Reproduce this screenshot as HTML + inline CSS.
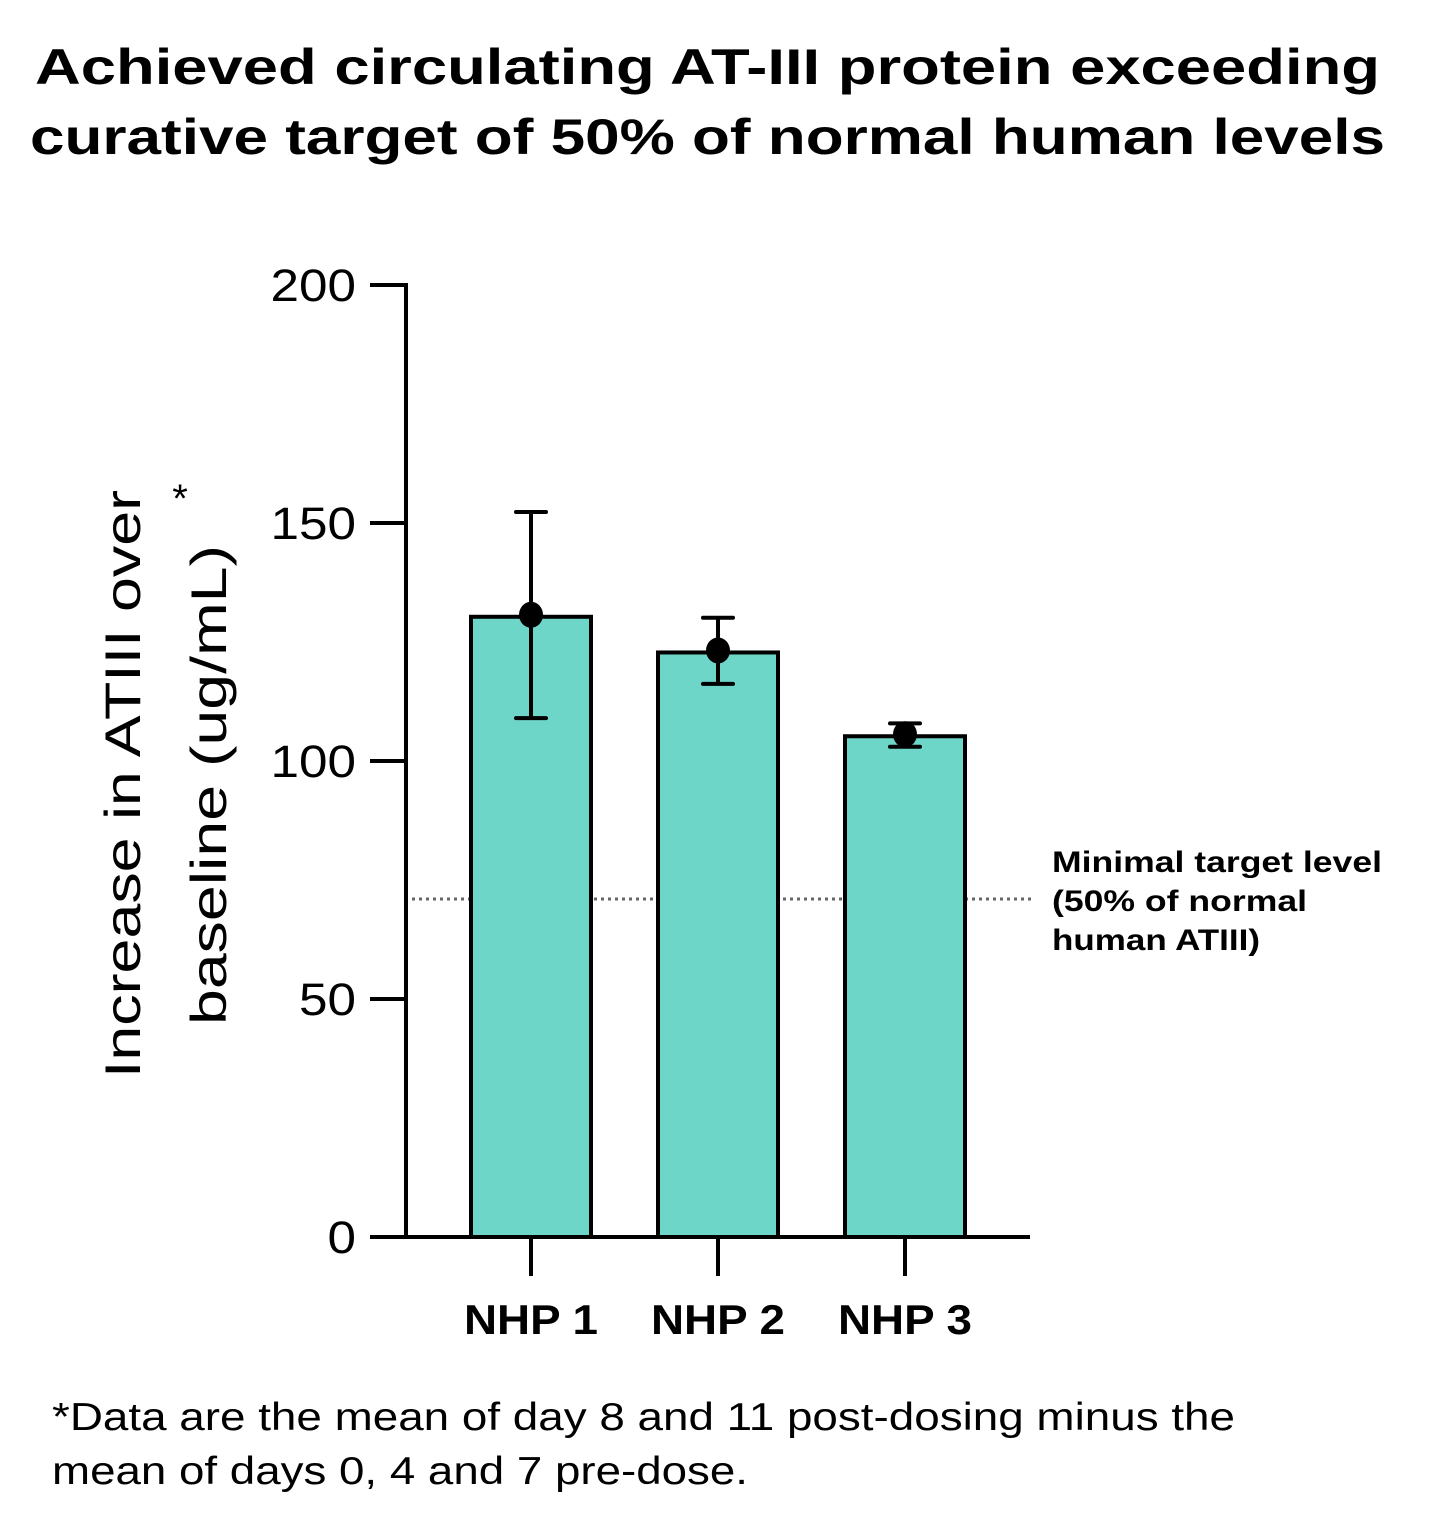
<!DOCTYPE html>
<html><head><meta charset="utf-8"><style>
body{margin:0;background:#fff;}
svg text{font-family:"Liberation Sans",sans-serif;}
</style></head><body>
<svg width="1445" height="1518" viewBox="0 0 1445 1518" xmlns="http://www.w3.org/2000/svg">
<text x="35" y="84" textLength="1345" lengthAdjust="spacingAndGlyphs" font-size="50" font-weight="bold">Achieved circulating AT-III protein exceeding</text>
<text x="30" y="154" textLength="1355" lengthAdjust="spacingAndGlyphs" font-size="50" font-weight="bold">curative target of 50% of normal human levels</text>
<g id="plot"></g>
<text x="140" y="1078" transform="rotate(-90 140 1078)" textLength="588" lengthAdjust="spacingAndGlyphs" font-size="50">Increase in ATIII over</text>
<text x="226" y="1025" transform="rotate(-90 226 1025)" textLength="480" lengthAdjust="spacingAndGlyphs" font-size="50">baseline  (ug/mL)</text>
<text x="180" y="512" text-anchor="middle" font-size="40">*</text>
<text x="1052" y="872" textLength="330" lengthAdjust="spacingAndGlyphs" font-size="30" font-weight="bold">Minimal target level</text>
<text x="1052" y="911" textLength="255" lengthAdjust="spacingAndGlyphs" font-size="30" font-weight="bold">(50% of normal</text>
<text x="1052" y="950" textLength="208" lengthAdjust="spacingAndGlyphs" font-size="30" font-weight="bold">human ATIII)</text>
<text x="52" y="1430" textLength="1183" lengthAdjust="spacingAndGlyphs" font-size="39">*Data are the mean of day 8 and 11 post-dosing minus the</text>
<text x="52" y="1484" textLength="696" lengthAdjust="spacingAndGlyphs" font-size="39">mean of days 0, 4 and 7 pre-dose.</text>
</svg>
<script>
const categories=["NHP 1","NHP 2","NHP 3"];
const means=[130.3,122.8,105.2];
const errHigh=[152.3,130.1,107.9];
const errLow=[109.0,116.2,103.0];
const yTicks=[0,50,100,150,200];
const targetLevel=71;
const NS="http://www.w3.org/2000/svg";
const g=document.getElementById('plot');
const y0=1237,y1=285,yMax=200;
const y=v=>y0-(y0-y1)*v/yMax;
const x=i=>531+i*187;
function el(t,a){const e=document.createElementNS(NS,t);for(const k in a)e.setAttribute(k,a[k]);g.appendChild(e);return e;}
let tl=el('line',{x1:412,x2:1032,y1:y(targetLevel),y2:y(targetLevel),stroke:'#666','stroke-width':3,'stroke-dasharray':'3 4'});


categories.forEach((c,i)=>{
 const cx=x(i);
 let b=el('rect',{x:cx-60,y:y(means[i]),width:120,height:y0-y(means[i]),fill:'#6dd6c9',stroke:'#000','stroke-width':4});
 
 
 let e=el('path',{d:`M${cx} ${y(errHigh[i])}V${y(errLow[i])}M${cx-15} ${y(errHigh[i])}H${cx+15}M${cx-15} ${y(errLow[i])}H${cx+15}`,stroke:'#000','stroke-width':4,'stroke-linecap':'round',fill:'none'});
 
 
 let d=el('ellipse',{cx:cx,cy:y(means[i])-2,rx:12,ry:13,fill:'#000'});
 
 
 let t=el('line',{x1:cx,x2:cx,y1:y0,y2:1276,stroke:'#000','stroke-width':4});
 
 
 let l=el('text',{x:cx-67,y:1334,textLength:134,lengthAdjust:'spacingAndGlyphs','font-size':42,'font-weight':'bold'});
 l.textContent=c;
 
 
});
yTicks.forEach(v=>{
 let t=el('line',{x1:370,x2:406,y1:y(v),y2:y(v),stroke:'#000','stroke-width':4});
 
 
 const w=String(v).length*28.5;
 let l=el('text',{x:356-w,y:y(v)+16,textLength:w,lengthAdjust:'spacingAndGlyphs','font-size':45});
 l.textContent=v;
 
 
});
let ax=el('path',{d:`M406 ${y1-2}V${y0}H1030`,stroke:'#000','stroke-width':4,fill:'none'});


</script>
</body></html>
